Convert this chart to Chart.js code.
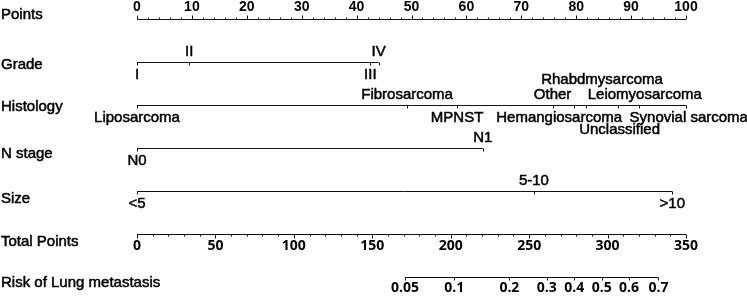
<!DOCTYPE html>
<html>
<head>
<meta charset="utf-8">
<script src="https://cdn.jsdelivr.net/npm/chart.js@4/dist/chart.umd.min.js"></script>
<style>html,body{margin:0;background:#fff}</style>
</head>
<body>
<canvas id="nomo" width="747" height="296"></canvas>
<script>
// row titles, top to bottom
const rowNames = ["Points", "Grade", "Histology", "N stage", "Size", "Total Points", "Risk of Lung metastasis"];

// points scale (top) and total points scale
const pointTicks = [0, 10, 20, 30, 40, 50, 60, 70, 80, 90, 100];
const totalTicks = [0, 50, 100, 150, 200, 250, 300, 350];

// level: 1 = label above, 2 = two rows above, -1 = below, -2 = two rows below
const gradeLabels = ["I", "II", "III", "IV"];
const gradePoints = [0, 9.5, 42.5, 44];
const gradeLevel = [-1, 1, -1, 1];

const histLabels = ["Liposarcoma", "Fibrosarcoma", "MPNST", "Other", "Hemangiosarcoma", "Rhabdmysarcoma", "Unclassified", "Leiomyosarcoma", "Synovial sarcoma"];
const histPoints = [0, 49.2, 58.3, 75.7, 79.6, 81.7, 87.7, 91.4, 100];
const histLevel = [-1, 1, -1, 1, -1, 2, -2, 1, -1];
// where the text sits (nudged apart where labels would overlap)
const histLabelAt = [0, 49.2, 58.3, 75.7, 76.9, 84.7, 87.9, 92.5, 100.5];

const nLabels = ["N0", "N1"];
const nPoints = [0, 63];
const nLevel = [-1, 1];

const sizeLabels = ["<5", "5-10", ">10"];
const sizePoints = [0, 72.3, 97.5];
const sizeLevel = [-1, 1, -1];

// risk ticks, placed on the total points scale
const riskLabels = ["0.05", "0.1", "0.2", "0.3", "0.4", "0.5", "0.6", "0.7"];
const riskTotals = [170.9, 202.3, 237.4, 261.2, 278.8, 296.3, 313.7, 332.4];

const FONT = "15px 'Liberation Sans', Arial, sans-serif";
const NUMFONT = "bold 14px 'Liberation Sans', Arial, sans-serif";
const LOWFONT = "bold 14px 'Open Sans', sans-serif";
const labelOffset = [-5, 2, 1, 5, 7, 7, 5];

function rowLine(vals, row, axis) {
  return {
    xAxisID: axis || "x",
    data: [{x: Math.min(...vals), y: row}, {x: Math.max(...vals), y: row}],
    showLine: true, pointRadius: 0, borderColor: "#111", borderWidth: 1, clip: false
  };
}

const datasets = [
  rowLine(pointTicks, 0),
  rowLine(gradePoints, 1),
  rowLine(histPoints, 2),
  rowLine(nPoints, 3),
  rowLine(sizePoints, 4),
  rowLine(totalTicks, 5, "x2"),
  rowLine(riskTotals, 6, "x2")
];

const nomoPlugin = {
  id: "nomo",
  afterDatasetsDraw(chart) {
    const ctx = chart.ctx;
    const sx = chart.scales.x, sx2 = chart.scales.x2, sy = chart.scales.y;
    ctx.save();
    ctx.fillStyle = "#000";
    ctx.strokeStyle = "#111";
    ctx.lineWidth = 1;

    function tick(px, py, len) {
      const xx = Math.round(px) + 0.5;
      ctx.beginPath();
      ctx.moveTo(xx, py);
      ctx.lineTo(xx, py + len);
      ctx.stroke();
    }
    function text(str, px, py, align, heavy) {
      ctx.textAlign = align || "center";
      ctx.textBaseline = "middle";
      ctx.fillText(str, px, py);
      if (heavy) {
        ctx.save();
        ctx.strokeStyle = "#000";
        ctx.lineWidth = 0.5;
        ctx.strokeText(str, px, py);
        ctx.restore();
      }
    }

    // row titles
    ctx.font = FONT;
    rowNames.forEach((n, i) => text(n, 1, sy.getPixelForValue(i) + labelOffset[i], "left", true));

    // points axis
    let y0 = sy.getPixelForValue(0);
    for (let v = 0; v <= 100; v += 2) tick(sx.getPixelForValue(v), y0, v % 10 === 0 ? -4 : -2);
    ctx.font = NUMFONT;
    pointTicks.forEach(v => text(String(v), sx.getPixelForValue(v), y0 - 12));

    // variable rows
    const levelOff = {"1": -11, "2": -26, "-1": 12, "-2": 24};
    function variable(labels, pts, lev, row, at) {
      const yy = sy.getPixelForValue(row);
      ctx.font = FONT;
      labels.forEach((l, i) => {
        tick(sx.getPixelForValue(pts[i]), yy, 3);
        text(l, sx.getPixelForValue((at || pts)[i]), yy + levelOff[lev[i]], "center", true);
      });
    }
    variable(gradeLabels, gradePoints, gradeLevel, 1);
    variable(histLabels, histPoints, histLevel, 2, histLabelAt);
    variable(nLabels, nPoints, nLevel, 3);
    variable(sizeLabels, sizePoints, sizeLevel, 4);

    // total points axis
    const y5 = sy.getPixelForValue(5);
    for (let v = 0; v <= 350; v += 10) tick(sx2.getPixelForValue(v), y5, v % 50 === 0 ? 4 : 2);
    ctx.font = LOWFONT;
    totalTicks.forEach(v => text(String(v), sx2.getPixelForValue(v), y5 + 12));

    // risk axis
    const y6 = sy.getPixelForValue(6);
    riskLabels.forEach((l, i) => {
      const px = sx2.getPixelForValue(riskTotals[i]);
      tick(px, y6, 3);
      text(l, px, y6 + 11);
    });
    ctx.restore();
  }
};

new Chart(document.getElementById("nomo"), {
  type: "scatter",
  data: {datasets: datasets},
  options: {
    responsive: false,
    animation: false,
    devicePixelRatio: 1,
    layout: {padding: {left: 137, right: 61, top: 0, bottom: 0}},
    plugins: {legend: {display: false}, tooltip: {enabled: false}},
    scales: {
      x: {type: "linear", min: 0, max: 100, display: false},
      x2: {type: "linear", min: 0, max: 350, display: false},
      y: {type: "linear", min: -0.4535, max: 6.4302, reverse: true, display: false}
    }
  },
  plugins: [nomoPlugin]
});
</script>
</body>
</html>
